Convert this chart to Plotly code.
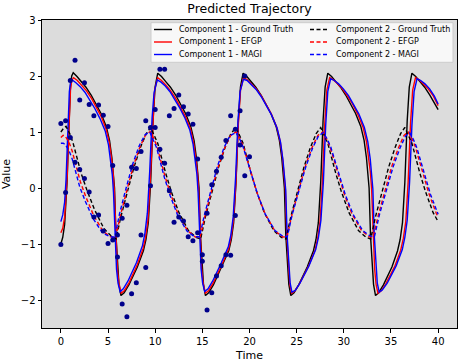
import plotly.graph_objects as go

# ---------------- data ----------------
# Component 1 - Ground Truth
GT1_T = [0.0, 0.2, 0.4, 0.55, 0.67, 0.78, 0.9, 1.02, 1.15, 1.31,
         1.71, 2.16, 2.66, 3.21, 3.71, 4.26, 4.81, 5.16, 5.41, 5.56, 5.69, 5.84, 6.01, 6.16, 6.37, 6.71, 7.21, 8.11, 8.75, 9.02, 9.27, 9.52, 9.77, 9.99, 10.27,
         10.67, 11.12, 11.62, 12.17, 12.67, 13.22, 13.77, 14.12, 14.37, 14.52, 14.65, 14.8, 14.97, 15.12, 15.33, 15.67, 16.17, 17.07, 17.8, 18.07, 18.32, 18.57, 18.82, 19.04, 19.32,
         19.72, 20.17, 20.67, 21.22, 21.72, 22.27, 22.82, 23.17, 23.42, 23.57, 23.7, 23.85, 24.02, 24.17, 24.38, 24.72, 25.22, 26.12, 26.78, 27.05, 27.3, 27.55, 27.8, 28.02, 28.3,
         28.7, 29.15, 29.65, 30.2, 30.7, 31.25, 31.8, 32.15, 32.4, 32.55, 32.68, 32.83, 33.0, 33.15, 33.36, 33.7, 34.2, 35.1, 35.7, 35.97, 36.22, 36.47, 36.72, 36.94, 37.22,
         37.62, 38.07, 38.57, 39.12, 39.62, 40.0]
GT1_V = [-1.0, -0.88, -0.65, -0.3, 0.15, 0.75, 1.4, 1.82, 2.0, 2.06,
         1.99, 1.90, 1.80, 1.66, 1.51, 1.33, 1.10, 0.85, 0.54, 0.31, 0.0, -0.85, -1.45, -1.72, -1.92, -1.87, -1.73, -1.41, -1.12, -0.92, -0.62, 0.1, 1.2, 1.8, 2.05,
         1.99, 1.90, 1.80, 1.66, 1.51, 1.33, 1.10, 0.85, 0.54, 0.31, 0.0, -0.85, -1.45, -1.72, -1.92, -1.87, -1.73, -1.41, -1.12, -0.92, -0.62, 0.1, 1.2, 1.8, 2.05,
         1.99, 1.90, 1.80, 1.66, 1.51, 1.33, 1.10, 0.85, 0.54, 0.31, 0.0, -0.85, -1.45, -1.72, -1.92, -1.87, -1.73, -1.41, -1.12, -0.92, -0.62, 0.1, 1.2, 1.8, 2.05,
         1.99, 1.90, 1.80, 1.66, 1.51, 1.33, 1.10, 0.85, 0.54, 0.31, 0.0, -0.85, -1.45, -1.72, -1.92, -1.87, -1.73, -1.41, -1.12, -0.92, -0.62, 0.1, 1.2, 1.8, 2.05,
         1.99, 1.90, 1.80, 1.66, 1.51, 1.40]

# Component 1 - EFGP
EF1_T = [0.0, 0.2, 0.4, 0.55, 0.67, 0.78, 0.9, 1.02, 1.15, 1.35,
         1.75, 2.2, 2.7, 3.25, 3.75, 4.3, 4.8, 5.15, 5.39, 5.54, 5.67, 5.82, 5.99, 6.15, 6.4, 6.74, 7.24, 8.1, 8.72, 8.98, 9.23, 9.47, 9.72, 9.94, 10.27,
         10.67, 11.12, 11.62, 12.17, 12.67, 13.22, 13.75, 14.08, 14.33, 14.48, 14.61, 14.76, 14.93, 15.09, 15.33, 15.67, 16.17, 17.07, 17.8, 18.05, 18.3, 18.56, 18.82, 19.05, 19.37,
         19.77, 20.22, 20.72, 21.27, 21.77, 22.32, 22.9, 23.26, 23.51, 23.66, 23.8, 23.95, 24.12, 24.27, 24.47, 24.8, 25.3, 26.25, 26.95, 27.23, 27.48, 27.73, 27.98, 28.2, 28.5,
         28.9, 29.35, 29.85, 30.4, 30.92, 31.47, 32.05, 32.4, 32.66, 32.81, 32.95, 33.1, 33.27, 33.42, 33.62, 33.95, 34.45, 35.4, 36.03, 36.31, 36.57, 36.82, 37.07, 37.3, 37.6,
         38.0, 38.45, 38.95, 39.5, 40.0]
EF1_V = [-0.8, -0.72, -0.52, -0.2, 0.2, 0.75, 1.35, 1.75, 1.92, 1.97,
         1.92, 1.84, 1.74, 1.60, 1.45, 1.27, 1.05, 0.8, 0.5, 0.27, -0.05, -0.88, -1.45, -1.7, -1.88, -1.83, -1.69, -1.37, -1.08, -0.88, -0.58, 0.1, 1.15, 1.75, 1.97,
         1.92, 1.84, 1.74, 1.60, 1.45, 1.27, 1.05, 0.8, 0.5, 0.27, -0.05, -0.88, -1.45, -1.7, -1.88, -1.83, -1.69, -1.37, -1.08, -0.88, -0.58, 0.1, 1.15, 1.75, 1.97,
         1.93, 1.86, 1.77, 1.64, 1.5, 1.32, 1.08, 0.83, 0.52, 0.29, -0.02, -0.85, -1.45, -1.72, -1.88, -1.84, -1.71, -1.4, -1.11, -0.9, -0.6, 0.1, 1.15, 1.75, 1.97,
         1.93, 1.86, 1.77, 1.64, 1.5, 1.32, 1.08, 0.83, 0.52, 0.29, -0.02, -0.85, -1.45, -1.72, -1.88, -1.84, -1.71, -1.4, -1.11, -0.9, -0.6, 0.1, 1.15, 1.75, 1.97,
         1.93, 1.86, 1.77, 1.64, 1.47]

# Component 1 - MAGI
MG1_T = [0.0, 0.2, 0.4, 0.55, 0.67, 0.78, 0.9, 1.02, 1.2,
         1.6, 2.05, 2.55, 3.1, 3.6, 4.15, 4.7, 5.05, 5.3, 5.45, 5.58, 5.73, 5.9, 6.06, 6.28, 6.62, 7.12, 8.02, 8.65, 8.92, 9.17, 9.42, 9.67, 9.88, 10.22,
         10.62, 11.07, 11.57, 12.1, 12.6, 13.15, 13.68, 14.02, 14.27, 14.42, 14.55, 14.7, 14.87, 15.03, 15.25, 15.6, 16.1, 17.0, 17.75, 18.02, 18.27, 18.53, 18.78, 19.0, 19.35,
         19.75, 20.2, 20.7, 21.25, 21.75, 22.32, 22.92, 23.29, 23.55, 23.7, 23.84, 23.99, 24.16, 24.31, 24.5, 24.85, 25.35, 26.3, 27.02, 27.31, 27.57, 27.83, 28.08, 28.3, 28.6,
         29.0, 29.45, 29.95, 30.5, 31.02, 31.6, 32.18, 32.54, 32.8, 32.95, 33.08, 33.23, 33.4, 33.55, 33.75, 34.08, 34.6, 35.55, 36.2, 36.47, 36.72, 36.97, 37.22, 37.45, 37.76,
         38.15, 38.6, 39.1, 39.6, 40.0]
MG1_V = [-0.6, -0.48, -0.25, 0.15, 0.7, 1.3, 1.72, 1.88, 1.93,
         1.88, 1.81, 1.71, 1.57, 1.42, 1.24, 1.02, 0.77, 0.47, 0.24, -0.08, -0.9, -1.45, -1.7, -1.85, -1.8, -1.66, -1.33, -1.03, -0.8, -0.45, 0.3, 1.25, 1.7, 1.93,
         1.89, 1.82, 1.72, 1.58, 1.43, 1.25, 1.03, 0.78, 0.48, 0.25, -0.08, -0.9, -1.45, -1.7, -1.85, -1.8, -1.66, -1.34, -1.05, -0.84, -0.52, 0.2, 1.2, 1.72, 1.94,
         1.92, 1.85, 1.76, 1.63, 1.49, 1.31, 1.07, 0.82, 0.5, 0.27, -0.03, -0.85, -1.43, -1.7, -1.86, -1.83, -1.7, -1.39, -1.1, -0.88, -0.58, 0.1, 1.12, 1.72, 1.95,
         1.92, 1.86, 1.77, 1.65, 1.5, 1.32, 1.08, 0.83, 0.52, 0.29, -0.02, -0.85, -1.43, -1.7, -1.86, -1.82, -1.7, -1.39, -1.1, -0.88, -0.58, 0.1, 1.12, 1.72, 1.95,
         1.92, 1.86, 1.77, 1.64, 1.5]

# Component 2 - Ground Truth
GT2_T = [0.0, 0.3, 0.55, 0.95, 1.3, 2.15, 2.75, 3.55, 4.55, 5.35, 5.85, 6.35, 7.05, 7.75, 8.45, 9.05, 9.52,
         9.92, 10.27, 11.12, 11.72, 12.52, 13.52, 14.32, 14.82, 15.32, 16.02, 16.72, 17.42, 18.02, 18.57,
         18.97, 19.32, 20.17, 20.77, 21.57, 22.57, 23.37, 23.87, 24.37, 25.07, 25.77, 26.47, 27.07, 27.55,
         27.95, 28.3, 29.15, 29.75, 30.55, 31.55, 32.35, 32.85, 33.35, 34.05, 34.75, 35.45, 36.02, 36.47,
         36.87, 37.22, 38.07, 38.67, 39.47, 40.0]
GT2_V = [1.0, 1.07, 1.1, 0.97, 0.8, 0.26, -0.03, -0.38, -0.72, -0.86, -0.91, -0.52, -0.07, 0.37, 0.73, 0.97, 1.08,
         0.94, 0.8, 0.26, -0.07, -0.44, -0.76, -0.88, -0.91, -0.52, -0.07, 0.37, 0.73, 0.97, 1.08,
         0.94, 0.8, 0.26, -0.07, -0.44, -0.76, -0.88, -0.91, -0.52, -0.07, 0.37, 0.73, 0.97, 1.08,
         0.94, 0.8, 0.26, -0.07, -0.44, -0.76, -0.88, -0.91, -0.52, -0.07, 0.37, 0.73, 0.97, 1.08,
         0.94, 0.8, 0.26, -0.07, -0.44, -0.6]

# Component 2 - EFGP
EF2_T = [0.0, 0.25, 0.45, 0.85, 1.2, 2.05, 2.65, 3.45, 4.45, 5.25, 5.8, 6.3, 7.0, 7.7, 8.4, 9.0, 9.47,
         9.87, 10.2, 11.02, 11.62, 12.42, 13.42, 14.22, 14.76, 15.28, 15.98, 16.68, 17.38, 18.0, 18.57,
         18.99, 19.35, 20.22, 20.83, 21.65, 22.67, 23.48, 23.97, 24.47, 25.18, 25.9, 26.62, 27.25, 27.75,
         28.17, 28.53, 29.42, 30.03, 30.85, 31.87, 32.68, 33.12, 33.63, 34.35, 35.07, 35.8, 36.38, 36.82,
         37.22, 37.57, 38.42, 39.02, 39.82, 40.0]
EF2_V = [0.9, 0.94, 0.93, 0.82, 0.66, 0.12, -0.16, -0.48, -0.77, -0.87, -0.89, -0.5, -0.04, 0.4, 0.74, 0.95, 1.01,
         0.88, 0.74, 0.22, -0.1, -0.46, -0.76, -0.87, -0.88, -0.5, -0.05, 0.38, 0.72, 0.94, 1.0,
         0.88, 0.74, 0.22, -0.1, -0.46, -0.76, -0.87, -0.88, -0.5, -0.05, 0.38, 0.72, 0.94, 1.0,
         0.88, 0.74, 0.22, -0.1, -0.46, -0.76, -0.87, -0.88, -0.5, -0.05, 0.38, 0.72, 0.94, 1.0,
         0.88, 0.74, 0.22, -0.1, -0.46, -0.52]

# Component 2 - MAGI
MG2_T = [0.0, 0.25, 0.45, 0.85, 1.2, 2.0, 2.6, 3.4, 4.4, 5.2, 5.72, 6.22, 6.92, 7.62, 8.32, 8.92, 9.42,
         9.82, 10.15, 10.97, 11.57, 12.37, 13.37, 14.17, 14.7, 15.22, 15.92, 16.62, 17.32, 17.95, 18.55,
         18.97, 19.33, 20.22, 20.85, 21.68, 22.7, 23.52, 24.01, 24.52, 25.23, 25.97, 26.7, 27.32, 27.82,
         28.25, 28.62, 29.52, 30.14, 30.98, 32.0, 32.82, 33.25, 33.77, 34.5, 35.23, 35.97, 36.55, 36.97,
         37.37, 37.72, 38.58, 39.18, 40.0]
MG2_V = [0.8, 0.8, 0.78, 0.67, 0.52, 0.02, -0.24, -0.54, -0.8, -0.87, -0.88, -0.46, 0.0, 0.43, 0.76, 0.95, 1.0,
         0.86, 0.72, 0.19, -0.13, -0.48, -0.77, -0.87, -0.87, -0.48, -0.03, 0.4, 0.73, 0.94, 0.99,
         0.87, 0.73, 0.21, -0.11, -0.47, -0.76, -0.86, -0.87, -0.48, -0.04, 0.38, 0.72, 0.93, 0.99,
         0.87, 0.73, 0.21, -0.11, -0.47, -0.76, -0.86, -0.87, -0.48, -0.04, 0.38, 0.72, 0.93, 0.99,
         0.87, 0.73, 0.21, -0.11, -0.47]

# Noisy observations (t = 0 ... 20)
OBS_T = [0.0, 0.5, 1.0, 1.5, 2.0, 2.5, 3.0, 3.5, 4.0, 4.5, 5.0, 5.5, 6.0, 6.5, 7.0, 7.5, 8.0, 8.5, 9.0, 9.5,
         10.0, 10.5, 11.0, 11.5, 12.0, 12.5, 13.0, 13.5, 14.0, 14.5, 15.0, 15.5, 16.0, 16.5, 17.0, 17.5, 18.0, 18.5, 19.0, 19.5, 20.0]
OBS_1 = [-1.01, -0.08, 1.92, 2.28, 1.57, 1.88, 1.49, 1.29, 1.48, 1.30, 1.10, 0.40, -1.23, -2.07, -2.30, -1.89, -1.69, -0.84, -1.42, 0.04,
         1.40, 2.12, 2.12, 1.29, 1.42, 1.66, 1.45, 1.32, 1.14, 0.52, -1.31, -2.18, -1.87, -1.57, -1.39, -1.19, -1.20, -0.49, 1.38, 2.0, None]
OBS_2 = [1.15, 1.20, 0.90, 0.46, 0.33, 0.17, -0.07, -0.52, -0.48, -0.77, -0.99, -0.93, -0.84, -0.54, -0.31, 0.37, 0.35, 0.65, 1.20, 1.08,
         1.08, 0.69, 0.44, -0.05, -0.61, -0.52, -0.59, -0.87, -0.94, -0.80, -1.19, -0.45, 0.06, 0.30, 0.55, 0.85, 1.29, 1.05, 0.77, 0.22, 0.56]

X_TICKS = [0, 5, 10, 15, 20, 25, 30, 35, 40]
Y_TICKS = [-2, -1, 0, 1, 2, 3]

DASH = "4px,2.5px"
SERIES = [
    ("Component 1 - Ground Truth", GT1_T, GT1_V, "#000000", "solid"),
    ("Component 1 - EFGP", EF1_T, EF1_V, "#ff0000", "solid"),
    ("Component 1 - MAGI", MG1_T, MG1_V, "#0000ff", "solid"),
    ("Component 2 - Ground Truth", GT2_T, GT2_V, "#000000", DASH),
    ("Component 2 - EFGP", EF2_T, EF2_V, "#ff0000", DASH),
    ("Component 2 - MAGI", MG2_T, MG2_V, "#0000ff", DASH),
]

# ---------------- figure ----------------
W, H = 458, 362
ML, MR, MT, MB = 42, 1, 20, 34
PW, PH = W - ML - MR, H - MT - MB
FONT = "DejaVu Sans"

fig = go.Figure()
for name, t, v, col, dash in SERIES:
    fig.add_trace(go.Scatter(x=t, y=v, mode="lines", name=name, showlegend=False,
                             line=dict(color=col, width=1.4, dash=dash)))

fig.add_trace(go.Scatter(x=OBS_T, y=OBS_1, mode="markers", name="Observations 1", showlegend=False,
                         marker=dict(color="#00008b", size=5)))
fig.add_trace(go.Scatter(x=OBS_T, y=OBS_2, mode="markers", name="Observations 2", showlegend=False,
                         marker=dict(color="#00008b", size=5)))


def px(x):
    return (x - ML) / PW


def py(y):
    return (MT + PH - y) / PH


shapes = [dict(type="rect", xref="paper", yref="paper", x0=px(151), x1=px(453), y0=py(62.3), y1=py(22.7),
               fillcolor="rgba(255,255,255,0.8)", line=dict(color="#cccccc", width=1), layer="above")]
annotations = []
rows_y = [29.5, 42.0, 54.5]
cols = [(154, 172, 177), (310, 328, 334)]
for i, (name, t, v, col, dash) in enumerate(SERIES):
    c = i // 3
    r = i % 3
    x0, x1, xt = cols[c]
    shapes.append(dict(type="line", xref="paper", yref="paper", x0=px(x0), x1=px(x1),
                       y0=py(rows_y[r]), y1=py(rows_y[r]), line=dict(color=col, width=1.4, dash=dash), layer="above"))
    annotations.append(dict(xref="paper", yref="paper", x=px(xt), y=py(rows_y[r]), text=name, showarrow=False,
                            xanchor="left", yanchor="middle", font=dict(family=FONT, size=8, color="#000000")))

fig.update_layout(
    width=W, height=H,
    margin=dict(l=ML, r=MR, t=MT, b=MB, pad=0),
    paper_bgcolor="#ffffff", plot_bgcolor="#dcdcdc",
    font=dict(family=FONT, size=10, color="#000000"),
    title=dict(text="Predicted Trajectory", x=0.5, xref="paper", xanchor="center",
               y=1 - 9 / H, yref="container", yanchor="middle", font=dict(family=FONT, size=12.5, color="#000000")),
    xaxis=dict(range=[-2, 42], tickvals=X_TICKS, ticks="outside", ticklen=3.5, tickwidth=0.8, tickcolor="#000",
               showline=True, linecolor="#000", linewidth=1, mirror=True, showgrid=False, zeroline=False,
               tickfont=dict(family=FONT, size=10), title=dict(text="Time", font=dict(family=FONT, size=11), standoff=5)),
    yaxis=dict(range=[-2.5, 3], tickvals=Y_TICKS, ticks="outside", ticklen=3.5, tickwidth=0.8, tickcolor="#000",
               showline=True, linecolor="#000", linewidth=1, mirror=True, showgrid=False, zeroline=False,
               tickfont=dict(family=FONT, size=10), title=dict(text="Value", font=dict(family=FONT, size=11), standoff=8)),
    shapes=shapes, annotations=annotations,
    showlegend=False,
    hovermode=False,
)

fig.write_html("out.html", config={"displayModeBar": False},
               post_script="document.body.style.margin='0';document.body.style.padding='0';")
